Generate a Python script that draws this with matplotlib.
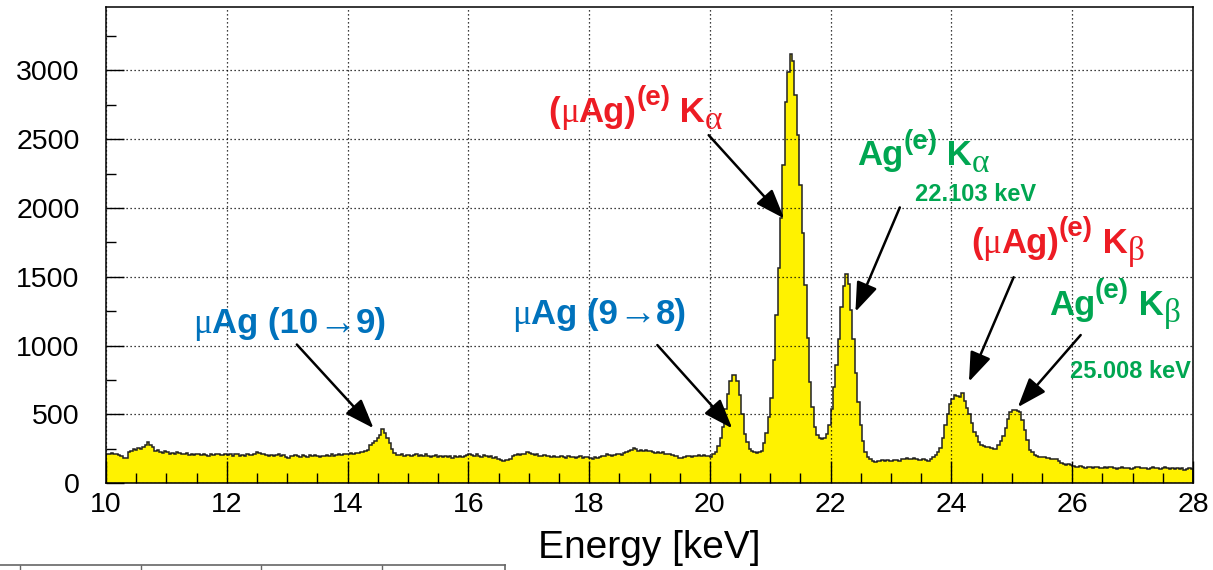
import matplotlib

matplotlib.use("Agg")
import matplotlib.pyplot as plt
import numpy as np
from matplotlib.ticker import MultipleLocator

plt.rcParams["font.family"] = ["Liberation Sans", "DejaVu Sans"]

SANS = ["Liberation Sans", "DejaVu Sans"]
SERIF = ["Liberation Serif", "DejaVu Serif"]

# spectrum, 0.04 keV bins starting at 10 keV
E_MIN, BIN_W = 10.0, 0.04

counts_10_15 = [
    215, 212, 218, 210, 215, 205, 200, 182, 185, 228, 232, 250, 240, 255, 250, 265, 278, 302, 280, 265, 235, 245, 225, 218, 232,
    225, 215, 220, 212, 228, 218, 210, 215, 222, 208, 212, 205, 215, 210, 205, 212, 208, 200, 210, 205, 212, 215, 208, 202, 210,
    205, 212, 198, 210, 215, 200, 205, 195, 210, 202, 208, 215, 225, 218, 210, 212, 205, 200, 208, 195, 202, 210, 198, 205, 190,
    185, 200, 195, 208, 200, 192, 205, 198, 190, 202, 195, 205, 198, 188, 200, 195, 205, 198, 210, 200, 205, 212, 208, 215, 210,
    212, 218, 215, 222, 218, 225, 230, 238, 245, 278, 290, 310, 330, 352, 392, 365, 330, 290, 250, 220, 208, 205, 210, 200, 205,
]
counts_15_20 = [
    205, 198, 208, 212, 200, 205, 195, 210, 200, 192, 198, 205, 190, 195, 188, 200, 192, 198, 185, 195, 190, 200, 188, 196, 205,
    212, 205, 200, 210, 198, 192, 205, 195, 188, 195, 185, 190, 180, 172, 165, 170, 168, 180, 195, 205, 210, 205, 215, 212, 228,
    222, 215, 205, 210, 200, 198, 205, 195, 200, 190, 195, 188, 192, 198, 190, 185, 195, 188, 192, 185, 190, 195, 185, 188, 192,
    185, 180, 188, 182, 190, 195, 200, 210, 205, 198, 205, 210, 212, 205, 218, 230, 235, 245, 255, 248, 238, 245, 235, 240, 232,
    235, 228, 222, 230, 218, 225, 215, 210, 212, 205, 200, 195, 182, 185, 190, 195, 198, 192, 200, 196, 202, 198, 205, 200, 195,
]
counts_20_2272 = [
    190, 215, 230, 270, 330, 410, 540, 650, 745, 790, 785, 740, 640, 500, 360, 300, 250, 235, 225, 220, 228, 232, 290, 363, 484,
    617, 895, 1220, 1561, 1924, 2309, 2770, 2988, 3117, 3068, 2819, 2529, 2166, 1815, 1440, 1052, 738, 556, 411, 351, 330, 320, 330, 360, 420,
    540, 700, 860, 1050, 1280, 1430, 1520, 1445, 1260, 1050, 800, 590, 420, 310, 225, 190, 175, 162,
]
counts_2272_2368 = [
    158, 165, 160, 168, 162, 170, 165, 160, 168, 172, 165, 175, 178, 182, 180, 175, 182, 178, 172, 168, 175, 170, 165, 178,
]
counts_2368_2604 = [
    190, 205, 225, 260, 330, 420, 505, 575, 610, 640, 632, 628, 655, 595, 545, 505, 435, 375, 340, 300, 275, 268, 265, 262, 258,
    250, 248, 280, 305, 340, 400, 470, 515, 530, 535, 528, 515, 460, 390, 315, 245, 225, 205, 195, 192, 188, 190, 185, 182, 178,
    180, 176, 160, 145, 140, 135, 138, 130, 128,
]
counts_2604_28 = [
    120, 118, 124, 115, 112, 120, 116, 110, 118, 122, 114, 108, 116, 112, 120, 115, 110, 106, 112, 118, 110, 114, 108, 105, 112,
    120, 116, 110, 108, 114, 106, 110, 118, 112, 108, 104, 110, 115, 108, 102, 110, 106, 112, 104, 108, 100, 106, 110, 104,
]

counts = np.array(
    counts_10_15 + counts_15_20 + counts_20_2272 + counts_2272_2368 + counts_2368_2604 + counts_2604_28, dtype=float
)
edges = E_MIN + BIN_W * np.arange(len(counts) + 1)

BLUE, RED, GREEN = "#0072BC", "#ED1C24", "#00A651"

# label pieces: (text, font kind, role); kind "b" bold sans, "g" greek serif, "a" arrow
mu_10_9 = [("\u03bc", "g", "main"), ("Ag (10", "b", "main"), ("\u2192", "a", "main"), ("9)", "b", "main")]
mu_9_8 = [("\u03bc", "g", "main"), ("Ag (9", "b", "main"), ("\u2192", "a", "main"), ("8)", "b", "main")]
muag_ka = [("(", "b", "main"), ("\u03bc", "g", "main"), ("Ag)", "b", "main"), ("(e)", "b", "sup"),
           (" K", "b", "main"), ("\u03b1", "g", "sub")]
ag_ka = [("Ag", "b", "main"), ("(e)", "b", "sup"), (" K", "b", "main"), ("\u03b1", "g", "sub")]
muag_kb = [("(", "b", "main"), ("\u03bc", "g", "main"), ("Ag)", "b", "main"), ("(e)", "b", "sup"),
           (" K", "b", "main"), ("\u03b2", "g", "sub")]
ag_kb = [("Ag", "b", "main"), ("(e)", "b", "sup"), (" K", "b", "main"), ("\u03b2", "g", "sub")]

# label, colour, left/baseline of text (keV, counts), arrow tail, arrow tip
peak_labels = [
    (mu_10_9, BLUE, (11.44, 1090), (13.16, 1008), (14.43, 400)),
    (mu_9_8, BLUE, (16.73, 1157), (19.13, 1004), (20.37, 399)),
    (muag_ka, RED, (17.32, 2625), (19.98, 2529), (21.23, 1924)),
    (ag_ka, GREEN, (22.44, 2311), (23.145, 2004), (22.41, 1246)),
    (muag_kb, RED, (24.32, 1672), (25.03, 1497), (24.29, 738)),
    (ag_kb, GREEN, (25.61, 1222), (26.14, 1077), (25.10, 553)),
]
energy_labels = [
    ("22.103 keV", (23.40, 2050)),
    ("25.008 keV", (25.97, 768)),
]

MAIN_SIZE = 25
ROLE_STYLE = {"main": (MAIN_SIZE, 0), "sup": (20, 12), "sub": (24, -5)}
KIND_FONT = {
    "b": (SANS, "bold", 1.0),
    "g": (SERIF, "normal", 1.0),
    "a": (SANS, "normal", 1.1),
}


def draw_label(ax, xy, pieces, colour):
    """Chain text pieces left to right on one baseline, with raised/lowered parts."""
    prev = None
    for text, kind, role in pieces:
        size, rise = ROLE_STYLE[role]
        family, weight, scale = KIND_FONT[kind]
        kw = dict(color=colour, fontsize=size * scale, family=family, fontweight=weight,
                  textcoords="offset points", xytext=(0, rise), ha="left", va="baseline", zorder=5)
        if prev is None:
            prev = ax.annotate(text, xy=xy, xycoords="data", **kw)
        else:
            prev = ax.annotate(text, xy=(1, xy[1]), xycoords=(prev, "data"), **kw)


fig = plt.figure(figsize=(12.13, 5.70), dpi=100)
ax = fig.add_axes([106 / 1213, 1 - 483.3 / 570, 1087 / 1213, 476.3 / 570])

ax.stairs(counts, edges, fill=True, color="#FFF200", zorder=1)
ax.stairs(counts, edges, color="#222222", lw=1.1, zorder=2)

ax.set_xlim(10, 28)
ax.set_ylim(0, 3460)
ax.xaxis.set_major_locator(MultipleLocator(2))
ax.xaxis.set_minor_locator(MultipleLocator(0.5))
ax.yaxis.set_major_locator(MultipleLocator(500))
ax.yaxis.set_minor_locator(MultipleLocator(250))
ax.tick_params(axis="both", which="both", direction="in", top=False, right=False, width=1, colors="black")
ax.tick_params(axis="x", which="major", length=16, labelsize=20.5, pad=6)
ax.tick_params(axis="y", which="major", length=13, labelsize=20.5, pad=19)
ax.tick_params(axis="both", which="minor", length=7)
ax.grid(True, which="major", color="black", lw=0.9, linestyle=(0, (1, 2.2)), zorder=3)
ax.set_axisbelow(False)
for side in ax.spines.values():
    side.set_linewidth(1.1)
    side.set_zorder(4)

ax.set_xlabel("Energy [keV]", fontsize=28, labelpad=9)

for pieces, colour, text_xy, tail, tip in peak_labels:
    draw_label(ax, text_xy, pieces, colour)
    ax.annotate(
        "", xy=tip, xytext=tail, zorder=5,
        arrowprops=dict(arrowstyle="-|>,head_length=1.5,head_width=0.55", mutation_scale=12,
                        color="black", lw=1.8, shrinkA=0, shrinkB=0),
    )

for text, text_xy in energy_labels:
    ax.text(*text_xy, text, color=GREEN, fontsize=17, fontweight="bold", ha="left", va="baseline", zorder=5)

# top edge of the panel below
frag = fig.add_axes([-60.65 / 1213, -0.5, 565.65 / 1213, 0.5 + 5 / 570])
frag.set_xlim(-1.336, 8.037)
frag.set_ylim(0, 1)
frag.set_xticks([0, 2, 4, 6])
frag.set_yticks([])
frag.tick_params(axis="x", direction="in", top=True, bottom=False, labeltop=False, labelbottom=False,
                 length=8, width=1, color="#666666")
for name in ("left", "bottom"):
    frag.spines[name].set_visible(False)
for name in ("top", "right"):
    frag.spines[name].set_color("#666666")
    frag.spines[name].set_linewidth(1.2)

fig.savefig("out.png", dpi=100)
